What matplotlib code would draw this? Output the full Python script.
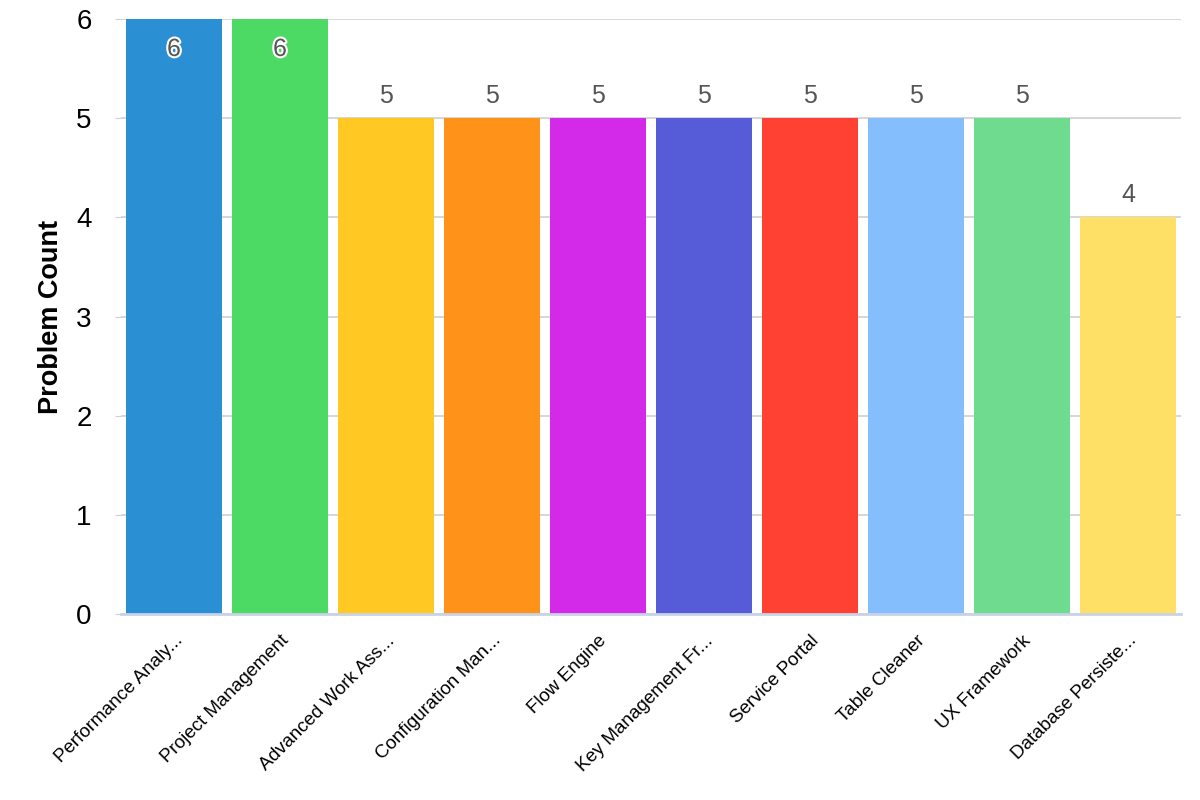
import matplotlib
matplotlib.use("Agg")
import matplotlib.pyplot as plt
import matplotlib.patheffects as pe
import numpy as np

plt.rcParams.update({
    "font.family": ["Liberation Sans", "DejaVu Sans"],
})

# --- Data ---
categories = [
    "Performance Analy...",
    "Project Management",
    "Advanced Work Ass...",
    "Configuration Man...",
    "Flow Engine",
    "Key Management Fr...",
    "Service Portal",
    "Table Cleaner",
    "UX Framework",
    "Database Persiste...",
]
counts = [6, 6, 5, 5, 5, 5, 5, 5, 5, 4]
colors = [
    "#2A8FD3", "#4CD964", "#FFC823", "#FF9218", "#D22AE8",
    "#565BD8", "#FF4133", "#84BEFD", "#6EDB8F", "#FFE066",
]
yticks = [0, 1, 2, 3, 4, 5, 6]

# --- Plot ---
fig = plt.figure(figsize=(12, 8), dpi=100)
ax = fig.add_axes([0.1008, 0.2325, 0.8834, 0.7435])

x = np.arange(len(categories))
bars = ax.bar(x, counts, width=0.9, color=colors, zorder=2)

ymax = max(counts)
for bar, val in zip(bars, counts):
    cx = bar.get_x() + bar.get_width() / 2
    if val >= ymax:
        # no room above the top, so put the label inside with a halo
        ax.annotate(str(val), (cx, val), xytext=(0, -26.5), textcoords="offset points",
                    ha="center", va="baseline", fontsize=18, color="#555555",
                    path_effects=[pe.withStroke(linewidth=3, foreground="white")])
    else:
        ax.annotate(str(val), (cx, val), xytext=(0, 11), textcoords="offset points",
                    ha="center", va="baseline", fontsize=18, color="#555555")

ax.set_xlim(-0.5, len(categories) - 0.5)
ax.set_ylim(0, ymax)
ax.set_yticks(yticks)
ax.tick_params(axis="y", length=4, color="#D0D0D0", labelsize=20, pad=17, labelcolor="black")
ax.tick_params(axis="x", length=0, pad=13)

ax.set_xticks(x)
ax.set_xticklabels(categories, rotation=45, ha="right", va="top",
                   rotation_mode="anchor", fontsize=13.5)

ax.set_ylabel("Problem Count", fontsize=19.5, fontweight="bold", labelpad=9)

ax.yaxis.grid(True, color="#D0D0D0", linewidth=1.2)
ax.set_axisbelow(True)

for side in ["top", "right", "left"]:
    ax.spines[side].set_visible(False)
ax.spines["bottom"].set_color("#C8D3E6")
ax.spines["bottom"].set_linewidth(2)
ax.spines["bottom"].set_zorder(3)

fig.savefig("out.png", dpi=100, facecolor="white")
